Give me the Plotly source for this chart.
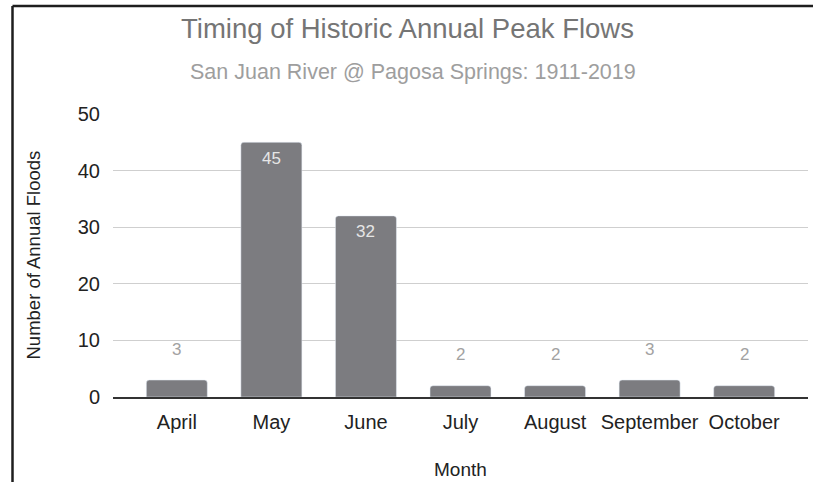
import plotly.graph_objects as go

months = ["April", "May", "June", "July", "August", "September", "October"]
floods = [3, 45, 32, 2, 2, 3, 2]
y_ticks = [0, 10, 20, 30, 40, 50]

W, H = 815, 482
ML, MR, MT, MB = 113, 7, 114, 85
pw, ph = W - ML - MR, H - MT - MB


def px_x(x):
    return (x - ML) / pw


def px_y(y):
    return (H - MB - y) / ph


fig = go.Figure()
fig.add_trace(go.Bar(
    x=months,
    y=floods,
    width=0.645,
    marker=dict(color="#7c7c80", cornerradius=3),
    hoverinfo="x+y",
))

# data labels: big bars get the label inside, small ones above
for m, v in zip(months, floods):
    inside = v >= 10
    fig.add_annotation(
        x=m, y=v, xref="x", yref="y",
        text=str(v), showarrow=False,
        yanchor="middle", yshift=-16 if inside else 31,
        font=dict(size=17, color="#e6e6e6" if inside else "#a2a2a2",
                  family="Liberation Sans, Arial, sans-serif"),
    )

fig.update_layout(
    width=W, height=H,
    margin=dict(l=ML, r=MR, t=MT, b=MB),
    paper_bgcolor="white",
    plot_bgcolor="white",
    font=dict(family="Liberation Sans, Arial, sans-serif", color="#222222"),
    showlegend=False,
    title=dict(
        text="Timing of Historic Annual Peak Flows",
        x=0.5, xref="container", xanchor="center",
        y=1 - 28.5 / H, yref="container", yanchor="middle",
        font=dict(size=27.5, color="#757575"),
    ),
)

fig.add_annotation(
    text="San Juan River @ Pagosa Springs: 1911-2019",
    x=px_x(413), y=px_y(71.5), xref="paper", yref="paper",
    xanchor="center", yanchor="middle", showarrow=False,
    font=dict(size=21.5, color="#9e9e9e"),
)
fig.add_annotation(
    text="Number of Annual Floods", textangle=-90,
    x=px_x(33), y=0.5, xref="paper", yref="paper",
    xanchor="center", yanchor="middle", showarrow=False,
    font=dict(size=18.5, color="#222222"),
)
fig.add_annotation(
    text="Month",
    x=px_x(460), y=px_y(469), xref="paper", yref="paper",
    xanchor="center", yanchor="middle", showarrow=False,
    font=dict(size=19, color="#222222"),
)

fig.update_xaxes(
    range=[-0.675, len(months) - 1 + 0.675],
    showgrid=False,
    showline=True, linecolor="#333333", linewidth=1.5,
    ticks="outside", ticklen=6, tickcolor="rgba(0,0,0,0)",
    tickfont=dict(size=20, color="#222222"),
)
fig.update_yaxes(
    range=[0, 50],
    tickvals=y_ticks,
    showgrid=True, gridcolor="#cfcfcf", gridwidth=1,
    zeroline=False,
    ticks="outside", ticklen=8, tickcolor="rgba(0,0,0,0)",
    tickfont=dict(size=20, color="#222222"),
)

# frame lines (top and left) like the cropped screenshot
fig.add_shape(type="line", xref="paper", yref="paper",
              x0=px_x(12.5), x1=px_x(813), y0=px_y(6), y1=px_y(6),
              line=dict(color="#1e1e1e", width=2.5))
fig.add_shape(type="line", xref="paper", yref="paper",
              x0=px_x(12.5), x1=px_x(12.5), y0=px_y(6), y1=px_y(482),
              line=dict(color="#1e1e1e", width=2.5))

# drop the default page margin so the figure sits at the window's corner
fig.write_html(
    "out.html",
    config={"displayModeBar": False},
    post_script="document.body.style.margin='0';document.body.style.overflow='hidden';",
)
